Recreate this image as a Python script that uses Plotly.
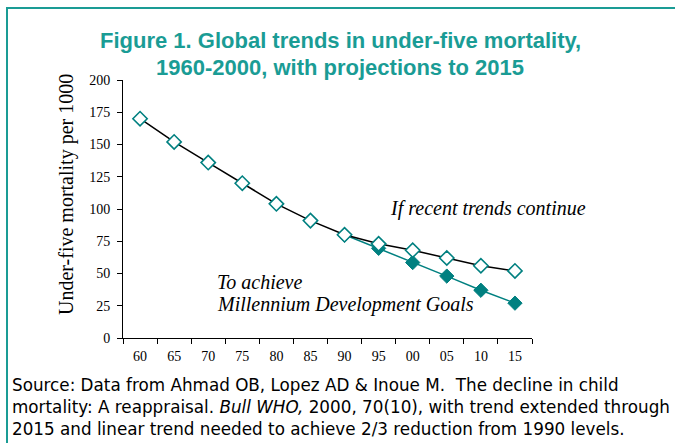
import plotly.graph_objects as go

years = ["60", "65", "70", "75", "80", "85", "90", "95", "00", "05", "10", "15"]
recent_trend = [170, 152, 136, 120, 104, 91, 80, 73, 68, 62, 56, 52]
mdg_years = ["90", "95", "00", "05", "10", "15"]
mdg_values = [80, 69.5, 58.5, 48, 37, 27]
y_ticks = [0, 25, 50, 75, 100, 125, 150, 175, 200]

TEAL = "#008080"
TITLE_TEAL = "#1a9c95"

W, H = 675, 443
L, R, T, B = 123, 532, 80, 338


def px(x):
    return (x - L) / (R - L)


def py(y):
    return (B - y) / (B - T)


fig = go.Figure()
fig.add_trace(go.Scatter(
    x=mdg_years, y=mdg_values, mode="lines+markers",
    line=dict(color=TEAL, width=1.5),
    marker=dict(symbol="diamond", size=11, color=TEAL, line=dict(color=TEAL, width=1)),
    showlegend=False, cliponaxis=False,
))
fig.add_trace(go.Scatter(
    x=years, y=recent_trend, mode="lines+markers",
    line=dict(color="black", width=1.5),
    marker=dict(symbol="diamond", size=11, color="white", line=dict(color=TEAL, width=1.6)),
    showlegend=False, cliponaxis=False,
))

fig.update_layout(
    width=W, height=H,
    margin=dict(l=L, r=W - R, t=T, b=H - B),
    paper_bgcolor="white", plot_bgcolor="white",
    font=dict(family="Liberation Serif, Times New Roman, serif", color="black"),
    xaxis=dict(
        type="category", categoryorder="array", categoryarray=years,
        range=[-0.5, 11.5], showgrid=False, zeroline=False,
        showline=True, linecolor="black", linewidth=1,
        ticks="outside", ticklen=5, tickcolor="black", tickson="boundaries",
        ticklabelstandoff=5,
        tickfont=dict(size=14, family="Liberation Serif, serif", color="black"),
    ),
    yaxis=dict(
        range=[0, 200], tickvals=y_ticks, showgrid=False, zeroline=False,
        showline=True, linecolor="black", linewidth=1,
        ticks="outside", ticklen=5, tickcolor="black",
        ticklabelstandoff=4,
        tickfont=dict(size=14, family="Liberation Serif, serif", color="black"),
    ),
)

TITLE_FONT = "Liberation Sans, Arial, sans-serif"
annotations = [
    dict(text="<b>Figure 1. Global trends in under-five mortality,</b>", x=px(340), y=py(41),
         font=dict(size=22, color=TITLE_TEAL, family=TITLE_FONT)),
    dict(text="<b>1960-2000, with projections to 2015</b>", x=px(340), y=py(68),
         font=dict(size=22, color=TITLE_TEAL, family=TITLE_FONT)),
    dict(text="Under-five mortality per 1000", x=px(66), y=py(195), textangle=-90,
         font=dict(size=20, color="black", family="Liberation Serif, serif")),
    dict(text="<i>If recent trends continue</i>", x=px(388), y=py(208), xanchor="left",
         font=dict(size=20, color="black", family="Liberation Serif, serif")),
    dict(text="<i>To achieve</i>", x=px(215), y=py(282), xanchor="left",
         font=dict(size=20, color="black", family="Liberation Serif, serif")),
    dict(text="<i>Millennium Development Goals</i>", x=px(215), y=py(304), xanchor="left",
         font=dict(size=20, color="black", family="Liberation Serif, serif")),
    dict(text="Source: Data from Ahmad OB, Lopez AD &amp; Inoue M.&nbsp; The decline in child<br>"
              "mortality: A reappraisal. <i>Bull WHO,</i> 2000, 70(10), with trend extended through<br>"
              "2015 and linear trend needed to achieve 2/3 reduction from 1990 levels.",
         x=px(10), y=py(407), xanchor="left", align="left",
         font=dict(size=16.8, color="black", family="DejaVu Sans, sans-serif")),
]
for a in annotations:
    a.setdefault("xanchor", "center")
    a.setdefault("yanchor", "middle")
    fig.add_annotation(xref="paper", yref="paper", showarrow=False, **a)

fig.add_shape(type="rect", xref="paper", yref="paper",
              x0=px(7), x1=px(700), y0=py(480), y1=py(8),
              line=dict(color=TITLE_TEAL, width=2), fillcolor="rgba(0,0,0,0)", layer="below")

fig.write_html("out.html", config={"displayModeBar": False},
               post_script="document.body.style.margin='0px';")
